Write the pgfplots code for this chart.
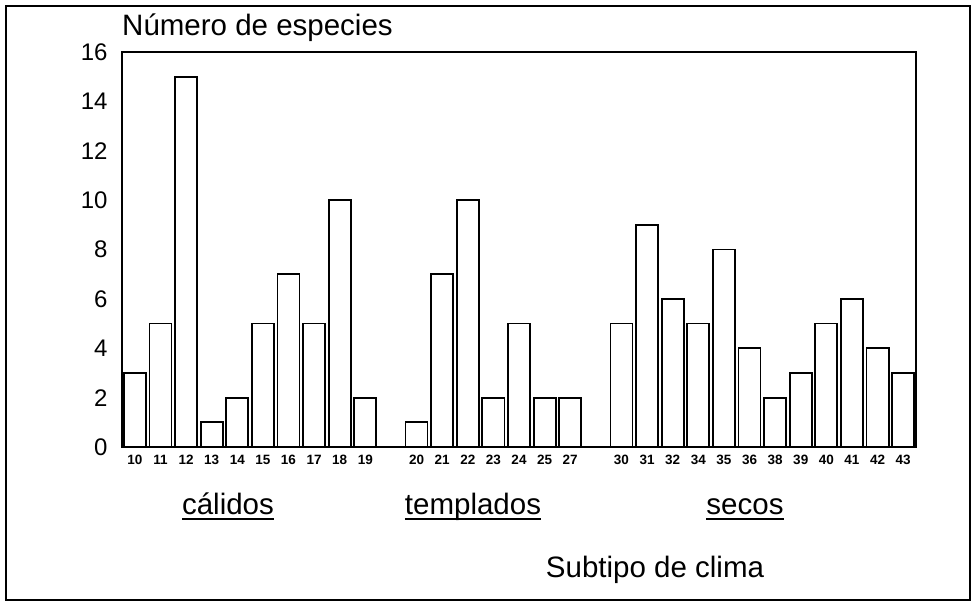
\documentclass[border=0pt]{standalone}
\usepackage{fontspec}
\setmainfont{Liberation Sans}
\usepackage{pgfplots}
\pgfplotsset{compat=1.18}
\newlength\ulw
\newcommand\ul[1]{\settowidth\ulw{#1}\rlap{\rule[-5.5pt]{\ulw}{2.4pt}}#1}
\begin{document}
\begin{tikzpicture}[x=1pt,y=1pt]
\path (0,0) rectangle (973,607);
\draw[line width=1.4pt] (6,7) rectangle (970,601);
\begin{axis}[
  at={(122pt,160pt)}, anchor=south west,
  scale only axis, width=794pt, height=395pt,
  xmin=-0.5, xmax=30.5, ymin=0, ymax=16,
  ybar, bar width=0.86,
  axis line style={line width=1.6pt},
  major tick length=0pt,
  ytick={0,2,4,6,8,10,12,14,16},
  yticklabels={0,2,4,6,8,10,12,14,16},
  xtick={0,1,2,3,4,5,6,7,8,9,11,12,13,14,15,16,17,19,20,21,22,23,24,25,26,27,28,29,30},
  xticklabels={10,11,12,13,14,15,16,17,18,19,20,21,22,23,24,25,27,30,31,32,34,35,36,38,39,40,41,42,43},
  every y tick label/.append style={font=\fontsize{24}{26}\selectfont, xshift=-11pt},
  every x tick label/.append style={font=\bfseries\fontsize{13.5}{14}\selectfont, yshift=-5pt},
]
\addplot[fill=white, draw=black, line width=1.8pt] coordinates {
(0,3) (1,5) (2,15) (3,1) (4,2) (5,5) (6,7) (7,5) (8,10) (9,2)
(11,1) (12,7) (13,10) (14,2) (15,5) (16,2) (17,2)
(19,5) (20,9) (21,6) (22,5) (23,8) (24,4) (25,2) (26,3) (27,5) (28,6) (29,4) (30,3)
};
\end{axis}
\node[anchor=base west, font=\fontsize{29.5}{32}\selectfont, inner sep=0] at (122,571) {Número de especies};
\node[anchor=base, font=\fontsize{29.5}{32}\selectfont, inner sep=0] at (228,92) {\ul{cálidos}};
\node[anchor=base, font=\fontsize{29.5}{32}\selectfont, inner sep=0] at (473,92) {\ul{templados}};
\node[anchor=base, font=\fontsize{29.5}{32}\selectfont, inner sep=0] at (745,92) {\ul{secos}};
\node[anchor=base, font=\fontsize{29.5}{32}\selectfont, inner sep=0] at (655,30) {Subtipo de clima};
\end{tikzpicture}
\end{document}
